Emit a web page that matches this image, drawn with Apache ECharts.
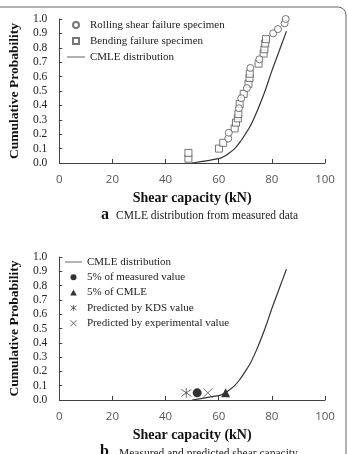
<!DOCTYPE html>
<html><head><meta charset="utf-8">
<script src="https://cdn.jsdelivr.net/npm/echarts@6/dist/echarts.min.js"></script>
<style>html,body{margin:0;padding:0;background:#fff}#c{width:348px;height:454px}</style>
</head><body><div id="c"></div>
<script>
// ---- data ----
var xTicks = [0, 20, 40, 60, 80, 100];
var rollingX = [63.6, 63.8, 67.6, 68.5, 70.6, 71.9, 75.3, 80.5, 82.3, 84.8, 85.2];
var rollingP = [0.17, 0.21, 0.38, 0.45, 0.52, 0.66, 0.72, 0.90, 0.93, 0.97, 1.00];
var bendingX = [48.6, 48.6, 60.1, 61.7, 66.0, 66.5, 67.2, 67.4, 67.9, 69.4, 71.2, 71.6, 71.7, 75.0, 76.9, 77.2, 77.5, 77.8];
var bendingP = [0.03, 0.07, 0.10, 0.14, 0.24, 0.28, 0.31, 0.34, 0.41, 0.48, 0.55, 0.59, 0.62, 0.69, 0.76, 0.79, 0.83, 0.86];
var cmleX = [50, 60, 62, 64, 66, 68, 70, 72, 74, 76, 78, 80, 82, 84, 85.5];
var cmleP = [0.0, 0.03, 0.045, 0.07, 0.10, 0.145, 0.20, 0.26, 0.34, 0.43, 0.53, 0.64, 0.74, 0.84, 0.915];
var measured5X = [51.9], measured5P = [0.05];
var cmle5X = [62.6], cmle5P = [0.05];
var kdsX = [47.8], kdsP = [0.05];
var expX = [55.9], expP = [0.05];

function pairs(xs, ys) { return xs.map(function (x, i) { return [x, ys[i]]; }); }

var SERIF = '"Liberation Serif","DejaVu Serif",serif';
var SANS = '"Open Sans","Liberation Sans",sans-serif';
var AX = '#404040';

function xAxisCfg(idx) {
  return {
    gridIndex: idx, type: 'value', min: 0, max: 100, interval: 20,
    axisLine: { show: true, lineStyle: { color: AX, width: 1 } },
    axisTick: { show: true, inside: true, length: 4, lineStyle: { color: AX } },
    splitLine: { show: false },
    axisLabel: { color: '#555', fontFamily: SANS, fontSize: 11.5, margin: 11,
      formatter: function (v) { return xTicks.indexOf(v) >= 0 ? String(v) : ''; } },
    name: 'Shear capacity (kN)', nameLocation: 'middle', nameGap: 28,
    nameTextStyle: { fontFamily: SERIF, fontWeight: 'bold', fontSize: 14, color: '#111' }
  };
}
function yAxisCfg(idx) {
  return {
    gridIndex: idx, type: 'value', min: 0, max: 1, interval: 0.1,
    axisLine: { show: true, lineStyle: { color: AX, width: 1 } },
    axisTick: { show: true, inside: true, length: 3, lineStyle: { color: AX } },
    splitLine: { show: false },
    axisLabel: { color: '#222', fontFamily: SERIF, fontSize: 11.5, margin: 12,
      formatter: function (v) { return v.toFixed(1); } },
    name: 'Cumulative Probability', nameLocation: 'middle', nameGap: 30,
    nameTextStyle: { fontFamily: SERIF, fontWeight: 'bold', fontSize: 13.5, color: '#111' }
  };
}

var hollow = { color: '#fff', borderColor: '#555', borderWidth: 1 };
var crossPath = 'path://M0,0L10,10M10,0L0,10';
var starPath = 'path://M5,0L5,10M0,1.5L10,8.5M10,1.5L0,8.5';
var lineIcon = 'path://M0,4.6H20V5.4H0Z';
var sqIcon = 'path://M0,0H10V10H0Z';
var triIcon = 'path://M5,0L10,9H0Z';
var legText = { fontFamily: SERIF, fontSize: 11, color: '#222', lineHeight: 12 };
var strokeIconStyle = { color: 'rgba(0,0,0,0)', borderColor: '#444', borderWidth: 1 };

var chart = echarts.init(document.getElementById('c'), null, { renderer: 'canvas' });
chart.setOption({
  animation: false,
  grid: [
    { left: 55, top: 19, width: 270, height: 144 },
    { left: 55, top: 257, width: 270, height: 143 }
  ],
  xAxis: [xAxisCfg(0), xAxisCfg(1)],
  yAxis: [yAxisCfg(0), yAxisCfg(1)],
  legend: [
    { left: 67, top: 19, padding: 0, orient: 'vertical', itemWidth: 18, itemHeight: 6, itemGap: 4,
      textStyle: legText,
      data: [
        { name: 'Rolling shear failure specimen', icon: 'circle' },
        { name: 'Bending failure specimen', icon: sqIcon },
        { name: 'CMLE distribution', icon: lineIcon, itemStyle: { color: '#222', borderWidth: 0 } }
      ] },
    { left: 65, top: 256, padding: 0, orient: 'vertical', itemWidth: 17, itemHeight: 6, itemGap: 3.3,
      textStyle: legText,
      data: [
        { name: 'CMLE distribution ', icon: lineIcon, itemStyle: { color: '#222', borderWidth: 0 } },
        { name: '5% of measured value', icon: 'circle' },
        { name: '5% of CMLE', icon: triIcon },
        { name: 'Predicted by KDS value', icon: starPath, itemStyle: strokeIconStyle },
        { name: 'Predicted by experimental value', icon: crossPath, itemStyle: strokeIconStyle }
      ] }
  ],
  series: [
    { name: 'CMLE distribution', type: 'line', xAxisIndex: 0, yAxisIndex: 0, smooth: 0.3,
      symbol: 'none', data: pairs(cmleX, cmleP), lineStyle: { color: '#333', width: 1.2 }, itemStyle: { color: '#333' } },
    { name: 'Bending failure specimen', type: 'scatter', xAxisIndex: 0, yAxisIndex: 0, symbol: 'rect', symbolSize: 7,
      data: pairs(bendingX, bendingP), itemStyle: hollow },
    { name: 'Rolling shear failure specimen', type: 'scatter', xAxisIndex: 0, yAxisIndex: 0, symbol: 'circle', symbolSize: 7,
      data: pairs(rollingX, rollingP), itemStyle: hollow },

    { name: 'CMLE distribution ', type: 'line', xAxisIndex: 1, yAxisIndex: 1, smooth: 0.3,
      symbol: 'none', data: pairs(cmleX, cmleP), lineStyle: { color: '#333', width: 1.2 }, itemStyle: { color: '#333' } },
    { name: 'Predicted by KDS value', type: 'scatter', xAxisIndex: 1, yAxisIndex: 1, symbol: starPath, symbolSize: 10,
      data: pairs(kdsX, kdsP), itemStyle: { color: 'rgba(0,0,0,0)', borderColor: '#444', borderWidth: 1 } },
    { name: '5% of measured value', type: 'scatter', xAxisIndex: 1, yAxisIndex: 1, symbol: 'circle', symbolSize: 9,
      data: pairs(measured5X, measured5P), itemStyle: { color: '#000' } },
    { name: 'Predicted by experimental value', type: 'scatter', xAxisIndex: 1, yAxisIndex: 1, symbol: crossPath, symbolSize: 9,
      data: pairs(expX, expP), itemStyle: { color: 'rgba(0,0,0,0)', borderColor: '#555', borderWidth: 1 } },
    { name: '5% of CMLE', type: 'scatter', xAxisIndex: 1, yAxisIndex: 1, symbol: 'triangle', symbolSize: 9,
      data: pairs(cmle5X, cmle5P), itemStyle: { color: '#000' } }
  ],
  graphic: [
    { type: 'rect', silent: true, shape: { x: -20, y: 7, width: 366, height: 700, r: 8 },
      style: { fill: 'none', stroke: '#666', lineWidth: 1 } },
    { type: 'text', left: 101, top: 207, style: { text: 'a', font: 'bold 16px ' + SERIF, fill: '#111' } },
    { type: 'text', left: 116, top: 210, style: { text: 'CMLE distribution from measured data', font: '11.5px ' + SERIF, fill: '#222' } },
    { type: 'text', left: 100, top: 444, style: { text: 'b', font: 'bold 16px ' + SERIF, fill: '#111' } },
    { type: 'text', left: 119, top: 448, style: { text: 'Measured and predicted shear capacity', font: '11.5px ' + SERIF, fill: '#222' } }
  ]
});
</script>
</body></html>
